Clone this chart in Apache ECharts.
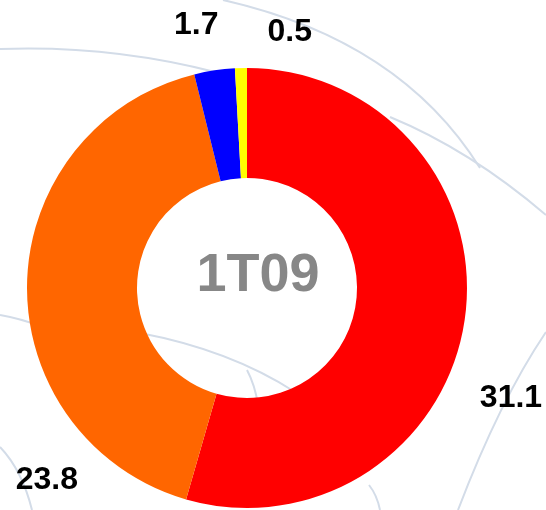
<!DOCTYPE html>
<html>
<head>
<meta charset="utf-8">
<title>1T09</title>
<script src="https://cdn.jsdelivr.net/npm/echarts@6/dist/echarts.min.js"></script>
<style>
  html, body { margin: 0; padding: 0; background: #fff; }
  #donut { width: 546px; height: 510px; }
</style>
</head>
<body>
<div id="donut"></div>
<script>
// data
const categories = ['A', 'B', 'C', 'D'];
const values = [31.1, 23.8, 1.7, 0.5];
const colors = ['#ff0000', '#ff6600', '#0000ff', '#ffff00'];
const centerLabel = '1T09';
// labels sit away from the slice middles, nudge them from the library spot
const labelNudge = [[10, 79], [56, 196], [9, -45], [76, -36]];

// faint background swirls
const swirl = [
  [0, 49, 110, 45, 215, 72],
  [223, 0, 400, 40, 480, 168],
  [390, 117, 470, 150, 546, 215],
  [0, 315, 40, 322, 80, 345],
  [140, 333, 230, 350, 295, 392],
  [247, 370, 255, 385, 258, 405],
  [0, 447, 22, 470, 32, 510],
  [369, 485, 377, 495, 380, 510],
  [546, 332, 500, 400, 458, 510]
];

const chart = echarts.init(document.getElementById('donut'));

const graphics = swirl.map((s) => ({
  type: 'bezierCurve',
  silent: true,
  z: 0,
  shape: { x1: s[0], y1: s[1], cpx1: s[2], cpy1: s[3], x2: s[4], y2: s[5] },
  style: { stroke: '#d3dce8', lineWidth: 2, fill: null }
}));
graphics.push({
  type: 'text',
  z: 100,
  x: 258,
  y: 276,
  style: {
    text: centerLabel,
    fill: '#878787',
    font: 'bold 54px "Liberation Sans", Arial, sans-serif',
    align: 'center',
    verticalAlign: 'middle'
  }
});

const option = {
  backgroundColor: '#ffffff',
  animation: false,
  graphic: graphics,
  series: [
    {
      type: 'pie',
      z: 2,
      center: [247, 288],
      radius: [110, 220],
      startAngle: 90,
      clockwise: true,
      avoidLabelOverlap: false,
      data: categories.map((name, i) => ({
        name: name,
        value: values[i],
        itemStyle: { color: colors[i] }
      })),
      label: {
        show: true,
        position: 'outside',
        formatter: (p) => p.value.toFixed(1),
        color: '#000000',
        fontFamily: '"Liberation Sans", Arial, sans-serif',
        fontWeight: 'bold',
        fontSize: 32,
        distanceToLabelLine: 5
      },
      labelLine: { show: false, length: 0, length2: 0 },
      labelLayout: (params) => ({
        dx: labelNudge[params.dataIndex][0],
        dy: labelNudge[params.dataIndex][1]
      }),
      emphasis: { disabled: true }
    }
  ]
};

chart.setOption(option);
</script>
</body>
</html>
